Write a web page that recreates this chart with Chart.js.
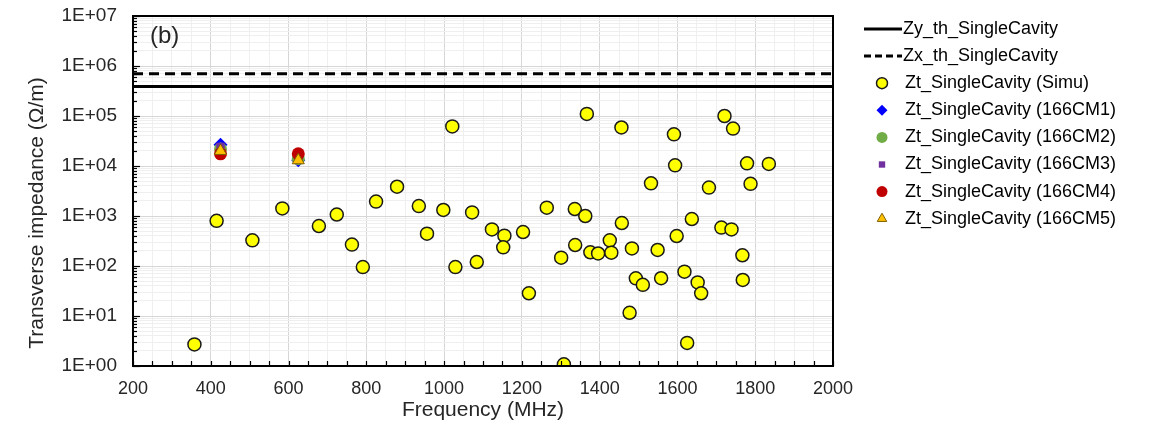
<!DOCTYPE html>
<html>
<head>
<meta charset="utf-8">
<script src="https://cdn.jsdelivr.net/npm/chart.js@4.4.1/dist/chart.umd.min.js"></script>
<style>
    html, body { margin: 0; padding: 0; background: #fff; }
    #wrap { width: 1171px; height: 431px; }
</style>
</head>
<body>
<div id="wrap"><canvas id="impChart" width="1171" height="431"></canvas></div>
<script>
// thresholds (Ohm/m), drawn over the whole frequency range
const thresholdFreq = [200, 2000]
const zyThreshold = 3.9e5
const zxThreshold = 7.0e5

// simulated single cavity modes
const simuFreq = [
    358, 415, 507, 584, 678, 724, 763, 791, 825, 879,
    935, 956, 998, 1021, 1029, 1072, 1084, 1123, 1155, 1152,
    1203, 1218, 1264, 1301, 1308, 1336, 1337, 1363, 1367, 1376,
    1396, 1426, 1430, 1456, 1457, 1477, 1483, 1493, 1511, 1532,
    1549, 1558, 1591, 1594, 1598, 1618, 1625, 1637, 1652, 1661,
    1681, 1713, 1721, 1739, 1743, 1767, 1768, 1779, 1788, 1835,
]
const simuZ = [
    2.7, 800, 326, 1420, 630, 1070, 268, 95, 1940, 3850,
    1580, 444, 1320, 6.2e4, 95, 1180, 120, 540, 405, 236,
    478, 28.5, 1470, 147, 1.08, 1380, 263, 1000, 1.1e5, 188,
    178, 326, 185, 5.9e4, 724, 11.6, 225, 56.6, 42, 4500,
    209, 57, 4.3e4, 1.03e4, 398, 77, 2.9, 870, 47, 28.5,
    3700, 586, 1.0e5, 540, 5.6e4, 164, 52.5, 1.13e4, 4400, 1.1e4,
]

// measured cryomodules
const cmFreq = [425, 625]
const cm1Z = [2.65e4, 1.3e4]
const cm2Z = [2.2e4, 1.4e4]
const cm3Z = [2.4e4, 1.35e4]
const cm4Z = [1.75e4, 1.75e4]
const cm5Z = [2.0e4, 1.3e4]

const xTickValues = []
for (let f = 200; f <= 2000; f += 50) xTickValues.push(f)
const xTickLabels = ['200', '400', '600', '800', '1000', '1200', '1400', '1600', '1800', '2000']
const yTickLabels = ['1E+00', '1E+01', '1E+02', '1E+03', '1E+04', '1E+05', '1E+06', '1E+07']
const yTitle = 'Transverse impedance (Ω/m)'

const FONT = '"Liberation Sans", Arial, sans-serif'
const TEXT = '#262626'

function toPoints(xs, ys) {
    return xs.map((x, i) => ({ x: x, y: ys[i] }))
}
function isDecade(v) {
    const l = Math.log10(v)
    return Math.abs(l - Math.round(l)) < 1e-9
}

const datasets = [
    {
        label: 'Zy_th_SingleCavity',
        type: 'line',
        data: toPoints(thresholdFreq, [zyThreshold, zyThreshold]),
        borderColor: '#000',
        borderWidth: 3,
        pointRadius: 0,
        order: 20,
    },
    {
        label: 'Zx_th_SingleCavity',
        type: 'line',
        data: toPoints(thresholdFreq, [zxThreshold, zxThreshold]),
        borderColor: '#000',
        borderWidth: 3,
        borderDash: [10, 6],
        pointRadius: 0,
        order: 19,
    },
    {
        label: 'Zt_SingleCavity (Simu)',
        data: toPoints(simuFreq, simuZ),
        pointStyle: 'circle',
        pointRadius: 6.5,
        backgroundColor: '#ffff00',
        borderColor: '#1a1a1a',
        borderWidth: 1.5,
        order: 10,
    },
    {
        label: 'Zt_SingleCavity (166CM1)',
        data: toPoints(cmFreq, cm1Z),
        pointStyle: 'rectRot',
        pointRadius: 7,
        backgroundColor: '#0000ff',
        borderColor: '#0000ff',
        borderWidth: 0,
        order: 5,
    },
    {
        label: 'Zt_SingleCavity (166CM2)',
        data: toPoints(cmFreq, cm2Z),
        pointStyle: 'circle',
        pointRadius: 6.5,
        backgroundColor: '#70ad47',
        borderColor: '#70ad47',
        borderWidth: 0,
        order: 4,
    },
    {
        label: 'Zt_SingleCavity (166CM3)',
        data: toPoints(cmFreq, cm3Z),
        pointStyle: 'rect',
        pointRadius: 6,
        backgroundColor: '#7030a0',
        borderColor: '#7030a0',
        borderWidth: 0,
        order: 3,
    },
    {
        label: 'Zt_SingleCavity (166CM4)',
        data: toPoints(cmFreq, cm4Z),
        pointStyle: 'circle',
        pointRadius: 6.5,
        backgroundColor: '#c00000',
        borderColor: '#c00000',
        borderWidth: 0,
        order: 2,
    },
    {
        label: 'Zt_SingleCavity (166CM5)',
        data: toPoints(cmFreq, cm5Z),
        pointStyle: 'triangle',
        pointRadius: 7,
        backgroundColor: '#ffc000',
        borderColor: '#7f6000',
        borderWidth: 1,
        order: 1,
    },
]

// frame, inward tick marks, panel tag and y title
const framePlugin = {
    id: 'frame',
    afterDraw(chart) {
        const { ctx, chartArea: a, scales } = chart
        ctx.save()
        ctx.strokeStyle = '#000'
        ctx.lineWidth = 1.2
        scales.y.ticks.forEach((t) => {
            const py = Math.round(scales.y.getPixelForValue(t.value)) + 0.5
            const len = isDecade(t.value) ? 7 : 4
            ctx.beginPath()
            ctx.moveTo(a.left, py)
            ctx.lineTo(a.left + len, py)
            ctx.stroke()
        })
        scales.x.ticks.forEach((t) => {
            const px = Math.round(scales.x.getPixelForValue(t.value)) + 0.5
            ctx.beginPath()
            ctx.moveTo(px, a.bottom)
            ctx.lineTo(px, a.bottom - 5)
            ctx.stroke()
        })
        ctx.lineWidth = 2
        ctx.strokeRect(a.left, a.top, a.right - a.left, a.bottom - a.top)

        ctx.fillStyle = TEXT
        ctx.font = '24px ' + FONT
        ctx.textBaseline = 'middle'
        ctx.textAlign = 'left'
        ctx.fillText('(b)', a.left + 17, a.top + 20)

        // y title sits a bit below the plot middle in the original
        ctx.font = '21px ' + FONT
        ctx.textAlign = 'center'
        ctx.translate(37, 213)
        ctx.rotate(-Math.PI / 2)
        ctx.fillText(yTitle, 0, 0)
        ctx.restore()
    },
}

// legend on the right: line samples for thresholds, markers for the rest
const sideLegend = {
    id: 'sideLegend',
    afterDraw(chart) {
        const { ctx } = chart
        const x0 = 864
        const textX = 903
        const rowY = 29
        const rowH = 27.1
        ctx.save()
        ctx.font = '18px ' + FONT
        ctx.textBaseline = 'middle'
        ctx.textAlign = 'left'
        chart.data.datasets.forEach((ds, i) => {
            const y = rowY + i * rowH
            if (ds.type === 'line') {
                ctx.strokeStyle = ds.borderColor
                ctx.lineWidth = 3
                ctx.setLineDash(ds.borderDash ? [7, 4] : [])
                ctx.beginPath()
                ctx.moveTo(x0, y)
                ctx.lineTo(textX - 1, y)
                ctx.stroke()
                ctx.setLineDash([])
            } else {
                ctx.fillStyle = ds.backgroundColor
                ctx.strokeStyle = ds.borderColor
                ctx.lineWidth = ds.borderWidth
                Chart.helpers.drawPoint(ctx, {
                    pointStyle: ds.pointStyle,
                    radius: ds.pointStyle === 'rect' ? 4.5 : 5.5,
                    rotation: 0,
                    borderWidth: ds.borderWidth,
                }, 882, y)
            }
            ctx.fillStyle = '#000'
            ctx.fillText(ds.label, ds.type === 'line' ? textX : 905, y)
        })
        ctx.restore()
    },
}

const chart = new Chart(document.getElementById('impChart').getContext('2d'), {
    type: 'scatter',
    data: { datasets: datasets },
    plugins: [framePlugin, sideLegend],
    options: {
        responsive: false,
        animation: false,
        devicePixelRatio: 1,
        layout: { padding: { top: 16, right: 338, left: 0, bottom: 0 } },
        plugins: {
            legend: { display: false },
            tooltip: { enabled: false },
        },
        scales: {
            x: {
                type: 'linear',
                min: 200,
                max: 2000,
                afterBuildTicks: (scale) => {
                    scale.ticks = xTickValues.map((v) => ({ value: v }))
                },
                afterFit: (scale) => { scale.height = 65 },
                ticks: {
                    autoSkip: false,
                    maxRotation: 0,
                    padding: 12,
                    color: TEXT,
                    font: { family: FONT, size: 18 },
                    callback: (v) => {
                        const idx = xTickLabels.indexOf(String(v))
                        return idx >= 0 ? xTickLabels[idx] : ''
                    },
                },
                grid: {
                    drawTicks: false,
                    color: (c) => (c.tick && c.tick.value % 200 === 0 ? '#d6d6d6' : '#efefef'),
                    lineWidth: 1,
                },
                border: { display: false },
                title: {
                    display: true,
                    text: 'Frequency (MHz)',
                    color: TEXT,
                    font: { family: FONT, size: 21 },
                    padding: { top: 0, bottom: 8 },
                },
            },
            y: {
                type: 'logarithmic',
                min: 1,
                max: 1e7,
                afterBuildTicks: (scale) => {
                    const t = []
                    for (let e = 0; e < yTickLabels.length; e++) {
                        for (let m = 1; m <= 9; m++) {
                            if (e === yTickLabels.length - 1 && m > 1) break
                            t.push({ value: m * Math.pow(10, e) })
                        }
                    }
                    scale.ticks = t
                },
                afterFit: (scale) => {
                    scale.width = 133
                    scale.paddingTop = 0
                    scale.paddingBottom = 0
                },
                ticks: {
                    autoSkip: false,
                    padding: 16,
                    color: TEXT,
                    font: { family: FONT, size: 19 },
                    callback: (v) => (isDecade(v) ? yTickLabels[Math.round(Math.log10(v))] : ''),
                },
                grid: {
                    drawTicks: false,
                    color: (c) => (c.tick && isDecade(c.tick.value) ? '#d6d6d6' : '#efefef'),
                    lineWidth: 1,
                },
                border: { display: false },
                title: { display: false },
            },
        },
    },
})
</script>
</body>
</html>
